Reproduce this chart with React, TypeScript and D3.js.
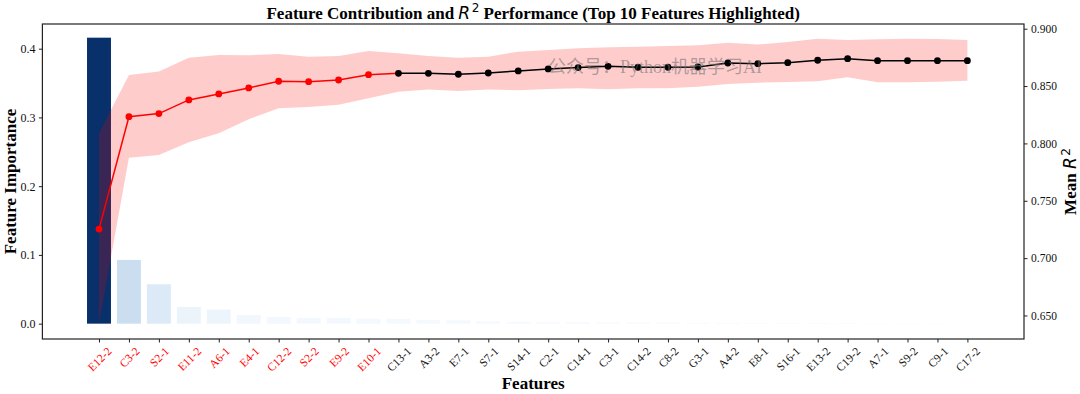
import React, { useRef, useEffect } from 'react';
import * as d3 from 'd3';

// features sorted by importance, top 10 are highlighted
const features = ['E12-2', 'C3-2', 'S2-1', 'E11-2', 'A6-1', 'E4-1', 'C12-2', 'S2-2', 'E9-2', 'E10-1',
  'C13-1', 'A3-2', 'E7-1', 'S7-1', 'S14-1', 'C2-1', 'C14-1', 'C3-1', 'C14-2', 'C8-2',
  'G3-1', 'A4-2', 'E8-1', 'S16-1', 'E13-2', 'C19-2', 'A7-1', 'S9-2', 'C9-1', 'C17-2'];

const importance = [0.416, 0.0927, 0.0573, 0.0243, 0.0204, 0.0127, 0.0098, 0.0083, 0.0083, 0.0073,
  0.0071, 0.0054, 0.005, 0.0039, 0.0029, 0.0025, 0.0023, 0.0021, 0.0019, 0.0017,
  0.0015, 0.0013, 0.0012, 0.0011, 0.001, 0.0009, 0.0008, 0.0007, 0.0006, 0.0005];

// cumulative mean R2 and +/- std band
const r2Mean = [0.7253, 0.8233, 0.826, 0.8379, 0.8431, 0.8484, 0.8542, 0.8538, 0.8553, 0.8599,
  0.8611, 0.8611, 0.8603, 0.8614, 0.8632, 0.8649, 0.8661, 0.8672, 0.8664, 0.8664,
  0.8666, 0.8701, 0.8695, 0.8704, 0.8725, 0.8739, 0.8721, 0.8721, 0.8721, 0.8721];
const r2Lower = [0.643, 0.7876, 0.79, 0.801, 0.8089, 0.8211, 0.8307, 0.8318, 0.8338, 0.8394,
  0.845, 0.8469, 0.8458, 0.8469, 0.8463, 0.8475, 0.8481, 0.8472, 0.8481, 0.8481,
  0.8495, 0.8518, 0.8529, 0.8536, 0.8542, 0.8577, 0.8533, 0.8533, 0.8538, 0.8547];
const r2Upper = [0.8089, 0.8597, 0.8626, 0.8747, 0.8771, 0.8768, 0.878, 0.8756, 0.8762, 0.8806,
  0.8786, 0.8762, 0.8747, 0.8756, 0.88, 0.8814, 0.8829, 0.8838, 0.8843, 0.8849,
  0.8855, 0.8878, 0.8862, 0.8884, 0.8913, 0.8902, 0.8908, 0.8913, 0.891, 0.8902];

const importanceTicks = [0, 0.1, 0.2, 0.3, 0.4];
const r2Ticks = [0.65, 0.7, 0.75, 0.8, 0.85, 0.9];
const topN = 10;

const width = 1080, height = 394;
const margin = { top: 24, right: 56, bottom: 55, left: 42.4 };
const serif = '"Liberation Serif", "Times New Roman", serif';
const mathFont = '"DejaVu Sans", sans-serif';

const App = () => {
  const svgref = useRef<SVGSVGElement>(null);

  useEffect(() => {
    const svg = d3.select(svgref.current);
    svg.selectAll('*').remove();

    const left = margin.left, right = width - margin.right;
    const top = margin.top, bottom = height - margin.bottom;
    const n = features.length;

    const x = d3.scaleLinear().domain([-1.89, n - 1 + 1.89]).range([left, right]);
    const yL = d3.scaleLinear().domain([-0.0223, 0.4359]).range([bottom, top]);
    const yR = d3.scaleLinear().domain([0.6295, 0.9041]).range([bottom, top]);
    const maxImp = d3.max(importance) as number;
    const bw = x(0.8) - x(0);

    // bars (primary axis)
    svg.append('g').selectAll('rect')
      .data(importance)
      .join('rect')
      .attr('x', (d, i) => x(i) - bw / 2)
      .attr('y', d => yL(d))
      .attr('width', bw)
      .attr('height', d => yL(0) - yL(d))
      .attr('fill', d => d3.interpolateBlues(d / maxImp));

    // R2 band + lines (twin axis, drawn on top)
    const idx = d3.range(n);
    const band = d3.area<number>()
      .x(i => x(i))
      .y0(i => yR(r2Lower[i]))
      .y1(i => yR(r2Upper[i]));
    svg.append('path').datum(idx).attr('d', band)
      .attr('fill', 'red').attr('fill-opacity', 0.2);

    const line = d3.line<number>().x(i => x(i)).y(i => yR(r2Mean[i]));
    const restIdx = idx.slice(topN);
    const topIdx = idx.slice(0, topN + 1);
    svg.append('path').datum(restIdx).attr('d', line)
      .attr('fill', 'none').attr('stroke', 'black').attr('stroke-width', 1.5);
    svg.append('path').datum(topIdx).attr('d', line)
      .attr('fill', 'none').attr('stroke', 'red').attr('stroke-width', 1.5);
    svg.append('g').selectAll('circle')
      .data(idx)
      .join('circle')
      .attr('cx', i => x(i))
      .attr('cy', i => yR(r2Mean[i]))
      .attr('r', 3.4)
      .attr('fill', i => i < topN ? 'red' : 'black');

    // axes
    const styleAxis = (g) => {
      g.select('.domain').remove();
      g.selectAll('line').attr('stroke', '#222').attr('stroke-width', 1);
      g.selectAll('text').style('font-family', serif).style('font-size', '11.5px').attr('fill', '#111');
    };
    svg.append('g')
      .attr('transform', `translate(${left},0)`)
      .call(d3.axisLeft(yL).tickValues(importanceTicks).tickFormat(d3.format('.1f')).tickSize(3.5).tickPadding(3.5))
      .call(styleAxis)
      .selectAll('text').style('font-size', '12px');
    svg.append('g')
      .attr('transform', `translate(${right},0)`)
      .call(d3.axisRight(yR).tickValues(r2Ticks).tickFormat(d3.format('.3f')).tickSize(3.5).tickPadding(3.5))
      .call(styleAxis);

    const xAxis = svg.append('g')
      .attr('transform', `translate(0,${bottom})`)
      .call(d3.axisBottom(x).tickValues(idx).tickFormat(i => features[i as number]).tickSize(3.5))
      .call(styleAxis);
    xAxis.selectAll<SVGTextElement, number>('text')
      .attr('y', null).attr('dy', '0.35em')
      .attr('text-anchor', 'middle')
      .attr('fill', i => i < topN ? 'red' : '#111')
      .attr('transform', function () {
        const w = this.getComputedTextLength();
        const h = (w + 0.66 * 11.5) * Math.SQRT1_2;
        return `translate(0,${7.5 + h / 2}) rotate(-45)`;
      });

    // frame
    svg.append('rect')
      .attr('x', left).attr('y', top)
      .attr('width', right - left).attr('height', bottom - top)
      .attr('fill', 'none').attr('stroke', '#222').attr('stroke-width', 1.2);

    // title
    const cx = (left + right) / 2;
    const title = svg.append('text')
      .attr('x', cx).attr('y', 18.5)
      .attr('text-anchor', 'middle')
      .style('font-family', serif).style('font-weight', 'bold').style('font-size', '17px');
    title.append('tspan').text('Feature Contribution and ');
    title.append('tspan').text('R').style('font-family', mathFont).style('font-style', 'italic').style('font-weight', 'normal');
    title.append('tspan').text('2').attr('dx', 1.5).attr('dy', -6.5)
      .style('font-family', mathFont).style('font-weight', 'normal').style('font-size', '12px');
    title.append('tspan').text(' Performance (Top 10 Features Highlighted)').attr('dy', 6.5);

    // axis labels
    svg.append('text')
      .attr('transform', `translate(15.5,${(top + bottom) / 2}) rotate(-90)`)
      .attr('text-anchor', 'middle')
      .style('font-family', serif).style('font-weight', 'bold').style('font-size', '17px')
      .text('Feature Importance');

    const rl = svg.append('text')
      .attr('transform', `translate(1076,${(top + bottom) / 2}) rotate(-90)`)
      .attr('text-anchor', 'middle')
      .style('font-family', serif).style('font-weight', 'bold').style('font-size', '17px');
    rl.append('tspan').text('Mean ');
    rl.append('tspan').text('R').style('font-family', mathFont).style('font-style', 'italic').style('font-weight', 'normal');
    rl.append('tspan').text('2').attr('dx', 1.5).attr('dy', -6.5)
      .style('font-family', mathFont).style('font-weight', 'normal').style('font-size', '12px');

    svg.append('text')
      .attr('x', cx).attr('y', 389)
      .attr('text-anchor', 'middle')
      .style('font-family', serif).style('font-weight', 'bold').style('font-size', '17px')
      .text('Features');

    // watermark
    svg.append('text')
      .attr('x', 548).attr('y', 73)
      .style('font-family', '"Liberation Serif", "Noto Sans CJK SC", serif')
      .style('font-size', '18px')
      .attr('fill', '#777').attr('fill-opacity', 0.6)
      .text('公众号：Python机器学习AI');
  }, []);

  return (
    <div>
      <svg ref={svgref} width={width} height={height}
        style={{ position: 'absolute', left: 0, top: 0, background: '#fff' }} />
    </div>
  );
};

export default App;
